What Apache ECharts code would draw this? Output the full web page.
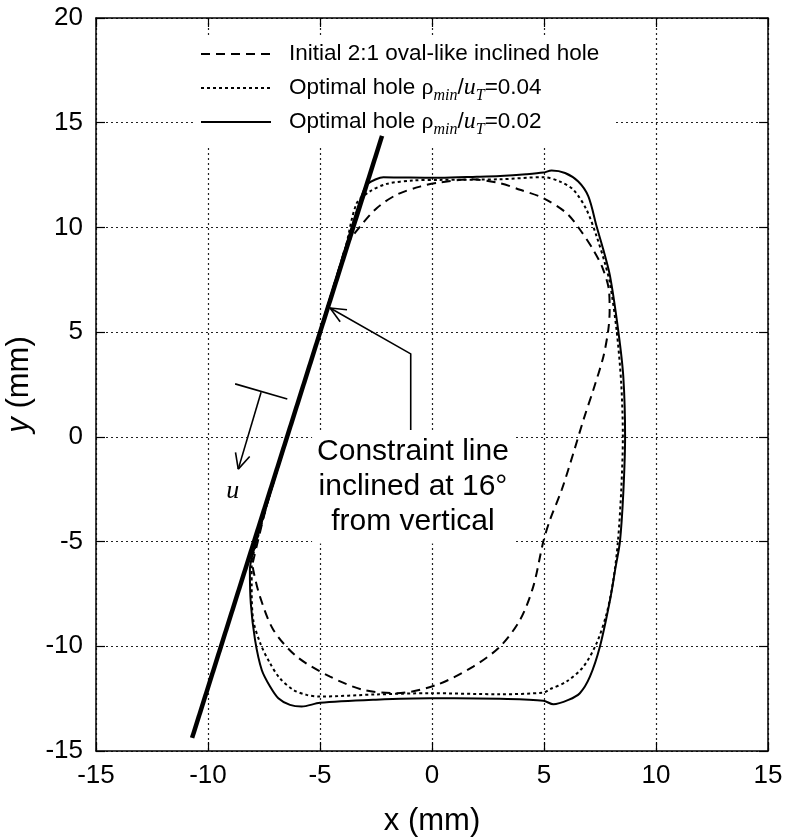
<!DOCTYPE html>
<html><head><meta charset="utf-8">
<script src="https://cdn.jsdelivr.net/npm/echarts@6/dist/echarts.min.js"></script>
<style>html,body{margin:0;padding:0;background:#fff}#c{width:785px;height:839px}</style>
</head><body><div id="c"></div>
<script>
const X_TICKS = [-15, -10, -5, 0, 5, 10, 15];
const Y_TICKS = [-15, -10, -5, 0, 5, 10, 15, 20];
const NAME_INITIAL = 'Initial 2:1 oval-like inclined hole';
const NAME_OPT04 = 'Optimal hole ρmin/uT=0.04';
const NAME_OPT02 = 'Optimal hole ρmin/uT=0.02';

const INITIAL_HOLE = [[-8.0,-6.0],[-7.31,-3],[-6.45,0],[-5.59,3],[-4.73,6],[-4.1,8.2],[-3.81,9.17],[-3.21,10.04],[-2.47,10.92],[-1.58,11.56],[-0.54,11.95],[0.36,12.15],[1.7,12.3],[3.04,12.11],[3.93,11.8],[4.97,11.4],[6.01,10.68],[6.61,9.89],[7.2,8.93],[7.6,8.1],[7.9,7.0],[7.93,6.0],[7.87,5.11],[7.65,3.83],[7.2,2.24],[6.76,0.81],[6.31,-0.78],[5.8,-2.5],[5.27,-3.96],[4.97,-5.0],[4.52,-7.15],[3.93,-8.74],[3.04,-10.01],[1.84,-10.97],[0.21,-11.84],[-1.58,-12.24],[-3.07,-12.08],[-4.55,-11.45],[-6.04,-10.49],[-7.08,-9.22],[-7.68,-7.63],[-7.98,-6.35],[-8.0,-6.0]];

const OPTIMAL_004 = [[-8.05,-5.9],[-7.31,-3],[-6.45,0],[-5.59,3],[-4.73,6],[-3.87,9],[-3.36,11.16],[-2.77,11.72],[-2.02,12.08],[-0.85,12.24],[0.36,12.27],[3.04,12.3],[4.97,12.4],[5.71,12.19],[6.31,11.8],[6.9,10.84],[7.35,9.57],[7.72,8.29],[7.95,7.3],[8.25,5],[8.45,2.5],[8.52,0],[8.45,-2.5],[8.3,-5],[8.1,-6.8],[7.8,-8.42],[7.35,-9.85],[6.76,-10.97],[6.01,-11.68],[5.27,-12.05],[4.97,-12.21],[3.04,-12.29],[-0.09,-12.24],[-2.5,-12.3],[-5,-12.4],[-5.6,-12.32],[-6.19,-12.08],[-6.79,-11.53],[-7.23,-10.81],[-7.65,-9.9],[-7.98,-8.74],[-8.05,-7.15],[-8.05,-6.19],[-8.05,-5.9]];

const OPTIMAL_002 = [[-8.05,-5.78],[-7.31,-3],[-6.45,0],[-5.59,3],[-4.73,6],[-3.87,9],[-3.3,11],[-2.92,12.03],[-2.5,12.3],[-2.17,12.4],[-1,12.38],[0.36,12.37],[2,12.42],[3.04,12.46],[4.2,12.54],[4.97,12.62],[5.34,12.72],[5.94,12.6],[6.53,12.19],[6.98,11.48],[7.35,10.04],[7.65,8.93],[7.95,7.66],[8.32,5.03],[8.54,2.88],[8.62,0],[8.54,-2.68],[8.39,-5.0],[8.2,-6.2],[7.95,-7.78],[7.5,-10.0],[7.05,-11.45],[6.6,-12.24],[6.09,-12.56],[5.42,-12.77],[4.97,-12.6],[3.04,-12.51],[1,-12.48],[-0.09,-12.48],[-2.5,-12.55],[-5,-12.7],[-5.82,-12.88],[-6.34,-12.8],[-6.86,-12.48],[-7.23,-11.92],[-7.6,-11.13],[-7.9,-9.69],[-8.09,-7.94],[-8.13,-6.35],[-8.05,-5.78]];

const CONSTRAINT_LINE = [[-10.71,-14.37],[-2.23,14.37]];
const CALLOUT_ARROW = [[-0.95,0.33],[-0.95,3.96],[-4.55,6.15]];
const U_BAR = [[-8.79,2.53],[-6.46,1.81]];
const U_ARROW = [[-7.63,2.13],[-8.65,-1.54]];
const U_LABEL_POS = [-8.9,-2.6];
const CALLOUT_TEXT_POS = [-0.85,-2.39];
const CALLOUT_TEXT = 'Constraint line\ninclined at 16°\nfrom vertical';

const chart = echarts.init(document.getElementById('c'), null, {renderer:'canvas'});

function arrowHead(tip, from, len, ang) {
  const dx = from[0]-tip[0], dy = from[1]-tip[1];
  const d = Math.sqrt(dx*dx+dy*dy), ux = dx/d, uy = dy/d;
  const out = [];
  [ang, -ang].forEach(a => {
    const c = Math.cos(a), s = Math.sin(a);
    out.push({type:'line', shape:{x1:tip[0], y1:tip[1], x2:tip[0]+len*(ux*c-uy*s), y2:tip[1]+len*(ux*s+uy*c)}, style:{stroke:'#000', lineWidth:1.6}});
  });
  return out;
}

function renderAnnotations(params, api) {
  const ca = CALLOUT_ARROW.map(p => api.coord(p));
  const ub = U_BAR.map(p => api.coord(p));
  const ua = U_ARROW.map(p => api.coord(p));
  const ul = api.coord(U_LABEL_POS);
  const ct = api.coord(CALLOUT_TEXT_POS);
  const children = [
    {type:'text', z2:1, style:{text:CALLOUT_TEXT, x:ct[0], y:ct[1], align:'center', verticalAlign:'middle', font:'30px "Liberation Sans", Arial, sans-serif', lineHeight:35, fill:'#000', backgroundColor:'#fff', padding:[4,5,4,5]}},
    {type:'polyline', z2:2, shape:{points:ca}, style:{stroke:'#000', lineWidth:1.6, fill:null}},
    {type:'line', z2:2, shape:{x1:ub[0][0], y1:ub[0][1], x2:ub[1][0], y2:ub[1][1]}, style:{stroke:'#000', lineWidth:1.6}},
    {type:'line', z2:2, shape:{x1:ua[0][0], y1:ua[0][1], x2:ua[1][0], y2:ua[1][1]}, style:{stroke:'#000', lineWidth:1.6}},
    {type:'text', z2:2, style:{text:'u', x:ul[0], y:ul[1], align:'center', verticalAlign:'middle', font:'italic 26px "Liberation Serif", "Times New Roman", serif', fill:'#000'}}
  ];
  arrowHead(ca[2], ca[1], 17, 0.42).forEach(e => { e.z2 = 2; children.push(e); });
  arrowHead(ua[1], ua[0], 17, 0.45).forEach(e => { e.z2 = 2; children.push(e); });
  return {type:'group', children};
}

const lineAxis = {show:true, onZero:false, lineStyle:{color:'#000', width:1.5}};
const tickIn = {show:true, inside:true, length:9, lineStyle:{color:'#000', width:1.2}};
const gridDots = {show:true, lineStyle:{color:'#222', width:1.2, type:[2,3]}};

const option = {
  backgroundColor:'#fff',
  animation:false,
  grid:{left:96, right:17, top:18, bottom:88, containLabel:false, outerBoundsMode:'none'},
  legend:{
    data:[NAME_INITIAL, NAME_OPT04, NAME_OPT02],
    orient:'vertical', left:195, top:38, itemWidth:70, itemHeight:14, itemGap:6,
    backgroundColor:'#fff', padding:[4,10,8,5],
    itemStyle:{opacity:0},
    formatter:function(name){
      if (name === NAME_INITIAL) return '{p|' + name + '}{s| }';
      const v = name === NAME_OPT04 ? '0.04' : '0.02';
      return '{p|Optimal hole }{g|ρ}{s|min}{a|/}{i|u}{s|T}{a|=' + v + '}';
    },
    textStyle:{
      color:'#000',
      rich:{
        p:{fontFamily:'Liberation Sans', fontSize:22.5, lineHeight:24, verticalAlign:'top', padding:[0,0,0,13], color:'#000'},
        a:{fontFamily:'Liberation Sans', fontSize:22.5, lineHeight:24, verticalAlign:'top', color:'#000'},
        g:{fontFamily:'Liberation Serif', fontSize:24, lineHeight:24, verticalAlign:'top', color:'#000'},
        i:{fontFamily:'Liberation Serif', fontStyle:'italic', fontSize:24, lineHeight:24, verticalAlign:'top', color:'#000'},
        s:{fontFamily:'Liberation Serif', fontStyle:'italic', fontSize:16, lineHeight:15, verticalAlign:'top', padding:[12,0,0,0], color:'#000'}
      }
    }
  },
  xAxis:[
    {type:'value', min:X_TICKS[0], max:X_TICKS[X_TICKS.length-1], interval:5, position:'bottom',
      name:'x (mm)', nameLocation:'middle', nameGap:55,
      nameTextStyle:{fontFamily:'Liberation Sans', fontSize:31, color:'#000'},
      axisLine:lineAxis, axisTick:tickIn,
      axisLabel:{color:'#000', fontFamily:'Liberation Sans', fontSize:26, margin:12},
      splitLine:gridDots},
    {type:'value', min:X_TICKS[0], max:X_TICKS[X_TICKS.length-1], interval:5, position:'top',
      axisLine:lineAxis, axisTick:tickIn, axisLabel:{show:false}, splitLine:{show:false}}
  ],
  yAxis:[
    {type:'value', min:Y_TICKS[0], max:Y_TICKS[Y_TICKS.length-1], interval:5, position:'left',
      name:'{i|y} (mm)', nameLocation:'middle', nameGap:60, nameRotate:90,
      nameTextStyle:{fontFamily:'Liberation Sans', fontSize:31, color:'#000', rich:{i:{fontFamily:'Liberation Sans', fontStyle:'italic', fontSize:31, color:'#000'}}},
      axisLine:lineAxis, axisTick:tickIn,
      axisLabel:{color:'#000', fontFamily:'Liberation Sans', fontSize:26, margin:13},
      splitLine:gridDots},
    {type:'value', min:Y_TICKS[0], max:Y_TICKS[Y_TICKS.length-1], interval:5, position:'right',
      axisLine:lineAxis, axisTick:tickIn, axisLabel:{show:false}, splitLine:{show:false}}
  ],
  series:[
    {name:NAME_INITIAL, type:'line', data:INITIAL_HOLE, symbol:'none', smooth:0.3, lineStyle:{color:'#000', width:2, type:[9,6]}, itemStyle:{color:'#000'}, z:3},
    {name:NAME_OPT04, type:'line', data:OPTIMAL_004, symbol:'none', smooth:0.3, lineStyle:{color:'#000', width:2, type:[3,3]}, itemStyle:{color:'#000'}, z:3},
    {name:NAME_OPT02, type:'line', data:OPTIMAL_002, symbol:'none', smooth:0.3, lineStyle:{color:'#000', width:2}, itemStyle:{color:'#000'}, z:3},
    {name:'Constraint line', type:'line', data:CONSTRAINT_LINE, symbol:'none', lineStyle:{color:'#000', width:4.5}, z:4},
    {name:'annotations', type:'custom', data:[[0,0]], renderItem:renderAnnotations, clip:false, z:5, silent:true}
  ]
};
chart.setOption(option);
</script></body></html>
